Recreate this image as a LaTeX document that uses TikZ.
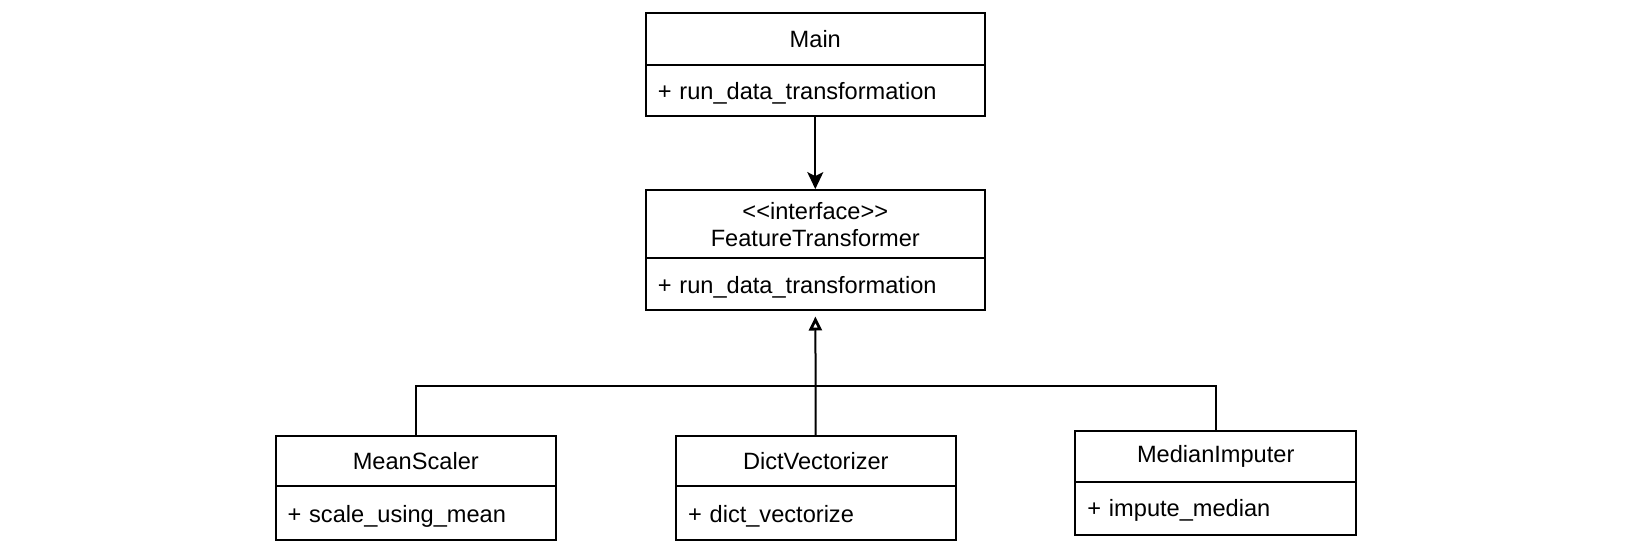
\documentclass[tikz,border=0pt]{standalone}
\usepackage{fontspec}
\setmainfont{Liberation Sans}
\usepackage{tikz}
\usetikzlibrary{shapes, arrows.meta, positioning}
\usetikzlibrary{calc}
\newcommand\ClassFont{\fontsize{11.8}{13.7}\selectfont}

\begin{document}
\begin{tikzpicture}
  [
    x=0.5pt, y=-0.5pt,
    Head/.style={rectangle, draw=black, line width=1pt, align=center, font=\ClassFont},
    Body/.style={rectangle, draw=black, line width=1pt, align=left, inner xsep=6pt, text depth=0pt, font=\ClassFont},
    Link/.style={draw, line width=1pt}
  ]
  \useasboundingbox (0, 0) rectangle (1630, 555);
  % Nodes
  \node[Head, minimum width=169.5pt, minimum height=26.2pt] (mainH) at(815.3, 38.9) {Main};
  \node[Body, text width=157.5pt, minimum height=25.5pt] (mainB) at(815.3, 90.5) {+ run\_data\_transformation};
  \node[Head, minimum width=169.5pt, minimum height=34.2pt] (ftH) at(815.3, 224.3) {{<}{<}interface{>}{>}\\FeatureTransformer};
  \node[Body, text width=157.5pt, minimum height=26pt] (ftB) at(815.3, 284.5) {+ run\_data\_transformation};
  \node[Head, minimum width=140.25pt, minimum height=25pt] (msH) at(415.8, 461.5) {MeanScaler};
  \node[Body, text width=128.25pt, minimum height=27pt] (msB) at(415.8, 513.5) {+ scale\_using\_mean};
  \node[Head, minimum width=139.8pt, minimum height=25pt] (dvH) at(815.8, 461.5) {DictVectorizer};
  \node[Body, text width=127.8pt, minimum height=27pt] (dvB) at(815.8, 513.5) {+ dict\_vectorize};
  \node[Head, minimum width=140.35pt, minimum height=25.5pt] (miH) at(1215.7, 456.5) {MedianImputer};
  \node[Body, text width=128.35pt, minimum height=26.25pt] (miB) at(1215.7, 508.3) {+ impute\_median};
  \coordinate (bar) at(815.8, 385.7);
  % Lines
  \path [Link, -{Stealth[length=8.5pt, width=8pt, inset=2pt]}] (mainB) -- (ftH);
  \path [Link, -{Triangle[open, length=7pt, width=6.5pt, line width=1.4pt]}, shorten >=2.5pt] (dvH) -- (ftB);
  \path [Link] (msH) |- (bar);
  \path [Link] (miH) |- (bar);
\end{tikzpicture}
\end{document}
